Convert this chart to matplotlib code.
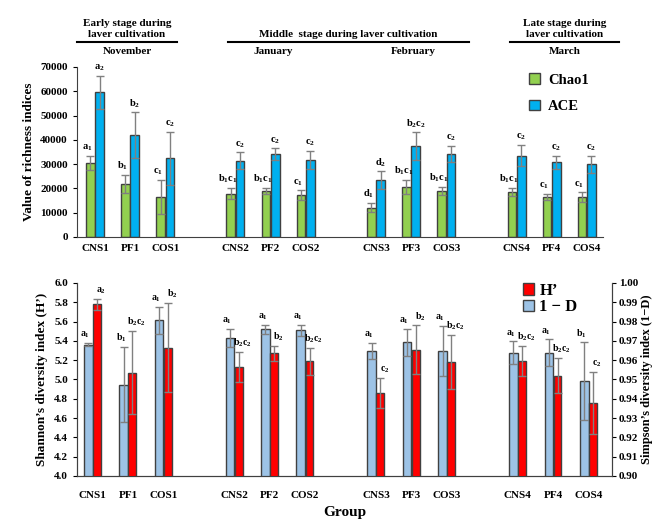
import numpy as np
import matplotlib
matplotlib.use('Agg')
import matplotlib.pyplot as plt
from matplotlib.lines import Line2D

plt.rcParams['font.family'] = 'Liberation Serif'
plt.rcParams['font.weight'] = 'bold'
plt.rcParams['axes.labelweight'] = 'bold'
plt.rcParams['mathtext.fontset'] = 'custom'
plt.rcParams['mathtext.rm'] = 'Liberation Serif:bold'
plt.rcParams['mathtext.it'] = 'Liberation Serif:bold'
plt.rcParams['mathtext.bf'] = 'Liberation Serif:bold'
plt.rcParams['mathtext.default'] = 'rm'

groups = ['CNS1', 'PF1', 'COS1', 'CNS2', 'PF2', 'COS2',
          'CNS3', 'PF3', 'COS3', 'CNS4', 'PF4', 'COS4']

# richness
chao1 = [30500, 21800, 16500, 17900, 18900, 17200, 12100, 20700, 18900, 18600, 16500, 16500]
chao1_err = [3000, 3700, 7000, 2300, 1300, 2000, 2000, 2900, 1600, 1700, 1400, 1900]
ace = [59500, 42000, 32400, 31300, 34200, 31600, 23300, 37300, 34300, 33500, 30700, 30000]
ace_err = [6800, 9300, 11000, 3500, 2300, 3700, 3700, 5800, 3300, 4300, 2800, 3500]
chao1_lab = ['a_1', 'b_1', 'c_1', 'b_1c_1', 'b_1c_1', 'c_1', 'd_1', 'b_1c_1', 'b_1c_1', 'b_1c_1', 'c_1', 'c_1']
ace_lab = ['a_2', 'b_2', 'c_2', 'c_2', 'c_2', 'c_2', 'd_2', 'b_2c_2', 'c_2', 'c_2', 'c_2', 'c_2']

# diversity
shannon = [5.78, 5.07, 5.33, 5.13, 5.27, 5.19, 4.86, 5.31, 5.18, 5.19, 5.04, 4.76]
shannon_err = [0.055, 0.43, 0.46, 0.16, 0.08, 0.14, 0.16, 0.25, 0.28, 0.155, 0.18, 0.32]
simpson = [0.9681, 0.9473, 0.9807, 0.9717, 0.9761, 0.9754, 0.9647, 0.9693, 0.9647, 0.9638, 0.9638, 0.9492]
simpson_err = [0.001, 0.0195, 0.007, 0.0047, 0.0023, 0.003, 0.0042, 0.007, 0.013, 0.006, 0.007, 0.020]
shannon_lab = ['a_2', 'b_2c_2', 'b_2', 'b_2c_2', 'b_2', 'b_2c_2', 'c_2', 'b_2', 'b_2c_2', 'b_2c_2', 'b_2c_2', 'c_2']
simpson_lab = ['a_1', 'b_1', 'a_1', 'a_1', 'a_1', 'a_1', 'a_1', 'a_1', 'a_1', 'a_1', 'a_1', 'b_1']

x = np.array([0, 1, 2, 4, 5, 6, 8, 9, 10, 12, 13, 14], dtype=float)
w = 0.245
edge = '#404040'
ekw = dict(ecolor='#808080', elinewidth=1, capsize=3, capthick=1)


def lab(s):
    # 'b_1c_1' -> mathtext with subscripts
    out = ''
    i = 0
    while i < len(s):
        if i + 1 < len(s) and s[i + 1] == '_':
            out += s[i] + '$_{' + s[i + 2] + '}$'
            i += 3
        else:
            out += s[i]
            i += 1
    return out


fig = plt.figure(figsize=(6.54, 5.27), dpi=100)

# ---------- top panel ----------
ax = fig.add_axes([0.1177, 0.5503, 0.922 - 0.1177, 0.8729 - 0.5503])
ax.bar(x - w / 2 - 0.01, chao1, w, color='#92D050', edgecolor=edge, linewidth=1,
       yerr=chao1_err, error_kw=ekw, label='Chao1')
ax.bar(x + w / 2 + 0.01, ace, w, color='#00B0F0', edgecolor=edge, linewidth=1,
       yerr=ace_err, error_kw=ekw, label='ACE')
for i in range(len(x)):
    ax.annotate(lab(chao1_lab[i]), (x[i] - w / 2 - 0.01, chao1[i] + chao1_err[i]),
                xytext=(-2, 2), textcoords='offset points', ha='center', va='bottom', fontsize=7.5)
    ax.annotate(lab(ace_lab[i]), (x[i] + w / 2 + 0.01, ace[i] + ace_err[i]),
                xytext=(0, 2), textcoords='offset points', ha='center', va='bottom', fontsize=7.5)
ax.set_xlim(-0.51, 14.46)
ax.set_ylim(0, 70000)
ax.set_yticks(np.arange(0, 70001, 10000))
ax.set_xticks(x)
ax.set_xticklabels(groups)
ax.tick_params(axis='x', length=0, labelsize=8, pad=5)
ax.tick_params(axis='y', labelsize=8, direction='out', length=3)
ax.spines['top'].set_visible(False)
ax.spines['right'].set_visible(False)
ax.spines['left'].set_color('#404040')
ax.spines['bottom'].set_color('#404040')
ax.set_ylabel('Value of richness indices', fontsize=9.5)
ax.legend(loc='upper left', bbox_to_anchor=(0.835, 1.04), frameon=False, fontsize=10.5,
          handlelength=0.7, handleheight=0.7, labelspacing=0.9, handletextpad=0.6)

# ---------- bottom panel ----------
bx = fig.add_axes([0.1177, 0.0968, 0.9358 - 0.1177, 0.463 - 0.0968])
bx2 = bx.twinx()
bx.bar(x + w / 2, shannon, w * 0.9, color='#FF0000', edgecolor=edge, linewidth=1,
       yerr=shannon_err, error_kw=ekw, label='H’', zorder=3)
bx2.bar(x - w / 2, simpson, w, color='#9DC3E6', edgecolor=edge, linewidth=1,
        yerr=simpson_err, error_kw=ekw, label='1 − D')
bx.set_zorder(bx2.get_zorder() + 1)
bx.patch.set_visible(False)
for i in range(len(x)):
    bx.annotate(lab(shannon_lab[i]), (x[i] + w / 2, shannon[i] + shannon_err[i]),
                xytext=(3, 2), textcoords='offset points', ha='center', va='bottom', fontsize=7)
    bx2.annotate(lab(simpson_lab[i]), (x[i] - w / 2, simpson[i] + simpson_err[i]),
                 xytext=(-2, 2), textcoords='offset points', ha='center', va='bottom', fontsize=7)
bx.set_xlim(-0.44, 14.66)
bx.set_ylim(4.0, 6.0)
bx.set_yticks(np.arange(4.0, 6.01, 0.2))
bx.set_yticklabels(['%.1f' % v for v in np.arange(4.0, 6.01, 0.2)])
bx2.set_ylim(0.90, 1.00)
bx2.set_yticks(np.arange(0.90, 1.001, 0.01))
bx2.set_yticklabels(['%.2f' % v for v in np.arange(0.90, 1.001, 0.01)])
bx.set_xticks(x)
bx.set_xticklabels(groups)
bx.tick_params(axis='x', length=0, labelsize=8, pad=11)
bx.tick_params(axis='y', labelsize=8, direction='out', length=3)
bx2.tick_params(axis='y', labelsize=8, direction='out', length=3, pad=2)
for a in (bx, bx2):
    a.spines['top'].set_visible(False)
    for s in ('left', 'right', 'bottom'):
        a.spines[s].set_color('#404040')
bx.set_ylabel('Shannon’s diversity index (H’)', fontsize=9.5)
bx2.set_ylabel('Simpson’s diversity index (1−D)', fontsize=9, labelpad=2)
bx.set_xlabel('Group', fontsize=11, labelpad=4)
h1, l1 = bx.get_legend_handles_labels()
h2, l2 = bx2.get_legend_handles_labels()
bx.legend(h1 + h2, l1 + l2, loc='upper left', bbox_to_anchor=(0.805, 1.08), frameon=False,
          fontsize=12, handlelength=0.7, handleheight=0.7, labelspacing=0.05, handletextpad=0.3)

# ---------- stage headers ----------
def header(x0, x1, y, text):
    fig.add_artist(Line2D([x0 / 654, x1 / 654], [1 - y / 527, 1 - y / 527], color='black', lw=1.5))
    fig.text((x0 + x1) / 2 / 654, 1 - (y - 3) / 527, text, ha='center', va='bottom',
             fontsize=8, linespacing=1.3)

header(77, 177, 42, 'Early stage during\nlaver cultivation')
header(228, 469, 42, 'Middle  stage during laver cultivation')
header(510, 619, 42, 'Late stage during\nlaver cultivation')
for xx, t in [(127, 'November'), (273, 'January'), (413, 'February'), (565, 'March')]:
    fig.text(xx / 654, 1 - 52 / 527, t, ha='center', va='center', fontsize=8)

fig.savefig('out.png', dpi=100)
